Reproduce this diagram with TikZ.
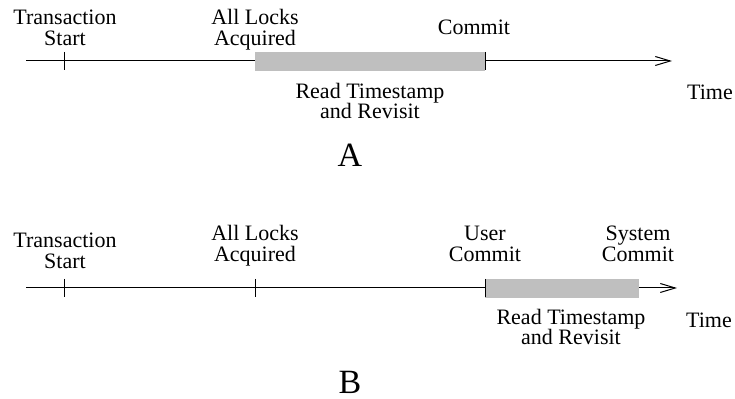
\documentclass[tikz,border=0pt]{standalone}
\usepackage{fontspec}
\setmainfont{Liberation Serif}
\usetikzlibrary{arrows.meta}
\definecolor{barGray}{HTML}{BFBFBF}
\begin{document}
\begin{tikzpicture}[x=0.5pt, y=-0.5pt,
    lbl/.style={align=center, inner sep=0pt, font=\fontsize{11}{10.3}\selectfont},
    big/.style={inner sep=0pt, font=\fontsize{17}{20}\selectfont},
    tick/.style={line width=0.5pt},
    axis/.style={line width=0.5pt, -{Straight Barb[length=7.5pt, width=4.5pt]}}]
  \useasboundingbox (0,0) rectangle (735,399);
  % timeline A
  \coordinate (a0) at (26,61);
  \coordinate (a1) at (672,61);
  \coordinate (tA1) at (64,61);
  \coordinate (tA3) at (485,61);
  \draw[axis] (a0) -- (a1);
  \fill[barGray] (255,52) rectangle (485,71);
  \node[lbl] (tsA) at (65,28) {Transaction\\Start};
  \node[lbl] (lkA) at (255,30) {All Locks\\Acquired};
  \node[lbl] (cmA) at (474,27) {Commit};
  \node[lbl] (rdA) at (370,101) {Read Timestamp\\and Revisit};
  \node[lbl] (tmA) at (710,92) {Time};
  \node[big] (capA) at (350,155) {A};
  % timeline B
  \coordinate (b0) at (26,288);
  \coordinate (b1) at (677,288);
  \coordinate (tB1) at (64,288);
  \coordinate (tB2) at (255,288);
  \coordinate (tB3) at (485,288);
  \draw[axis] (b0) -- (b1);
  \fill[barGray] (485,279) rectangle (639,298);
  \node[lbl] (tsB) at (65,251) {Transaction\\Start};
  \node[lbl] (lkB) at (255,246) {All Locks\\Acquired};
  \node[lbl] (ucB) at (485,244) {User\\Commit};
  \node[lbl] (scB) at (638,244) {System\\Commit};
  \node[lbl] (rdB) at (571,327) {Read Timestamp\\and Revisit};
  \node[lbl] (tmB) at (709,320) {Time};
  \node[big] (capB) at (350,382) {B};
  \foreach \t in {tA1, tA3, tB1, tB2, tB3}
    \draw[tick] (\t) ++(0,-9) -- ++(0,18);
\end{tikzpicture}
\end{document}
